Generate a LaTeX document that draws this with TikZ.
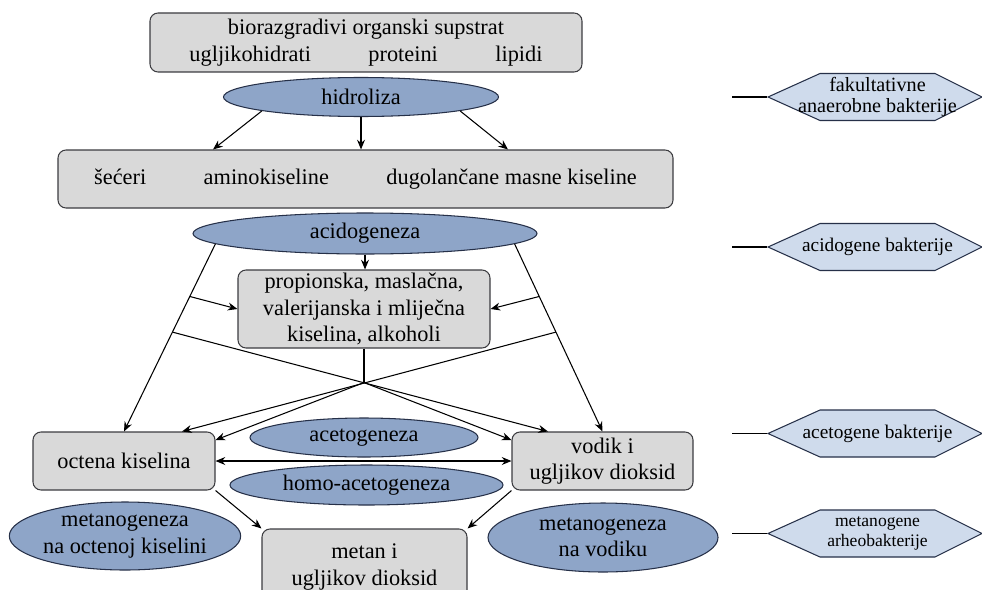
\documentclass[tikz,border=0pt]{standalone}
\usepackage{fontspec}
\setmainfont{Liberation Serif}
\usetikzlibrary{shapes.geometric,arrows.meta}
\definecolor{cGray}{RGB}{217,217,217}
\definecolor{cEdge}{RGB}{60,60,64}
\definecolor{cBlue}{RGB}{142,165,200}
\definecolor{cLight}{RGB}{207,219,236}
\definecolor{cDark}{RGB}{38,48,72}
\tikzset{
    box/.style={draw=cEdge, fill=cGray, rounded corners=0.16cm, align=center, inner sep=0pt},
    proc/.style={ellipse, draw=cDark, fill=cBlue, align=center, inner sep=0pt},
    hexa/.style={draw=cDark, fill=cLight},
    bact/.style={align=center, inner sep=0pt, minimum width=4.28cm, minimum height=0.94cm},
    arr/.style={-{Stealth[length=5.5pt,width=4.5pt]}},
}

\begin{document}
\begin{tikzpicture}[line width=0.6pt, font=\fontsize{12.7}{15}\selectfont]
        \useasboundingbox (0,0) rectangle (19.64,-11.78);

        \node[box, minimum width=8.64cm, minimum height=1.18cm] (sup) at (7.32,-0.85)
            {biorazgradivi organski supstrat\\ugljikohidrati\hspace{1.15cm}proteini\hspace{1.15cm}lipidi};
        \node[proc, minimum width=5.5cm, minimum height=0.78cm] (hidro) at (7.22,-1.94) {hidroliza};
        \node[box, minimum width=12.3cm, minimum height=1.16cm] (mono) at (7.31,-3.58)
            {šećeri\hspace{1.15cm}aminokiseline\hspace{1.15cm}dugolančane masne kiseline};

        \draw[arr] (hidro.188) -- ([xshift=-3.05cm]mono.north);
        \draw[arr] (hidro.south) -- (hidro.south |- mono.north);
        \draw[arr] (hidro.352) -- ([xshift=2.85cm]mono.north);

        \node[proc, minimum width=6.88cm, minimum height=0.82cm] (acido) at (7.3,-4.67) {acidogeneza};
        \node[box, minimum width=5.04cm, minimum height=1.56cm] (kis) at (7.28,-6.18)
            {propionska, maslačna,\\valerijanska i mliječna\\kiselina, alkoholi};
        \draw[arr] (acido.south) -- (acido.south |- kis.north);

        \node[box, minimum width=3.64cm, minimum height=1.16cm] (octena) at (2.48,-9.22) {octena kiselina};
        \node[box, minimum width=3.62cm, minimum height=1.16cm] (vodik) at (12.05,-9.22) {vodik i\\ugljikov dioksid};
        \node[proc, minimum width=4.56cm, minimum height=0.78cm] (aceto) at (7.28,-8.75) {acetogeneza};
        \node[proc, minimum width=5.46cm, minimum height=0.8cm] (homo) at (7.33,-9.7) {homo-acetogeneza};

        \draw[arr] (acido.184) -- coordinate[pos=0.28] (la) coordinate[pos=0.47] (lb) (octena.north);
        \draw[arr] (acido.356) -- coordinate[pos=0.28] (ra) coordinate[pos=0.47] (rb) (vodik.north);
        \draw[arr] (la) -- (kis.west);
        \draw[arr] (ra) -- (kis.east);
        \draw[arr] (lb) -- ([xshift=-1.09cm]vodik.north);
        \draw[arr] (rb) -- ([xshift=1.16cm]octena.north);

        \coordinate (jn) at ([yshift=-0.68cm]kis.south);
        \draw (kis.south) -- (jn);
        \draw[arr] (jn) -- ([yshift=0.42cm]octena.east);
        \draw[arr] (jn) -- ([yshift=0.42cm]vodik.west);
        \draw[{Stealth[length=5.5pt,width=4.5pt]}-{Stealth[length=5.5pt,width=4.5pt]}] (octena) -- (vodik);

        \node[proc, minimum width=4.52cm, minimum height=1.36cm] (mok) at (2.5,-10.72) {metanogeneza\\na octenoj kiselini};
        \node[proc, minimum width=4.6cm, minimum height=1.38cm] (mvod) at (12.06,-10.75) {metanogeneza\\na vodiku};
        \node[box, minimum width=4.1cm, minimum height=1.52cm] (metan) at (7.29,-11.34) {metan i\\ugljikov dioksid};

        \draw[arr] (octena.south east) -- (metan.north west);
        \draw[arr] (vodik.south west) -- (metan.north east);

        \draw[hexa] (17.5,-1.94) ++(-2.14,0) -- ++(1.04,0.47) -- ++(2.3,0) -- ++(0.94,-0.47) -- ++(-0.94,-0.47) -- ++(-2.3,0) -- cycle;
        \draw[hexa] (17.5,-4.94) ++(-2.14,0) -- ++(1.04,0.47) -- ++(2.3,0) -- ++(0.94,-0.47) -- ++(-0.94,-0.47) -- ++(-2.3,0) -- cycle;
        \draw[hexa] (17.5,-8.67) ++(-2.14,0) -- ++(1.04,0.47) -- ++(2.3,0) -- ++(0.94,-0.47) -- ++(-0.94,-0.47) -- ++(-2.3,0) -- cycle;
        \draw[hexa] (17.5,-10.67) ++(-2.14,0) -- ++(1.04,0.47) -- ++(2.3,0) -- ++(0.94,-0.47) -- ++(-0.94,-0.47) -- ++(-2.3,0) -- cycle;

        \node[bact, font=\fontsize{11.5}{12}\selectfont] (fak) at (17.55,-1.94) {fakultativne\\anaerobne bakterije};
        \node[bact, font=\fontsize{11}{13}\selectfont] (acb) at (17.55,-4.94) {acidogene bakterije};
        \node[bact, font=\fontsize{11}{13}\selectfont] (atb) at (17.55,-8.67) {acetogene bakterije};
        \node[bact, font=\fontsize{10}{11.5}\selectfont] (mtb) at (17.55,-10.67) {metanogene\\arheobakterije};

        \coordinate (fak0) at (14.64,-1.94);
        \coordinate (acb0) at (14.64,-4.94);
        \coordinate (atb0) at (14.64,-8.67);
        \coordinate (mtb0) at (14.64,-10.67);
        \draw (fak0) -- ([xshift=-0.05cm]fak.west);
        \draw (acb0) -- ([xshift=-0.05cm]acb.west);
        \draw (atb0) -- ([xshift=-0.05cm]atb.west);
        \draw (mtb0) -- ([xshift=-0.05cm]mtb.west);
\end{tikzpicture}
\end{document}
